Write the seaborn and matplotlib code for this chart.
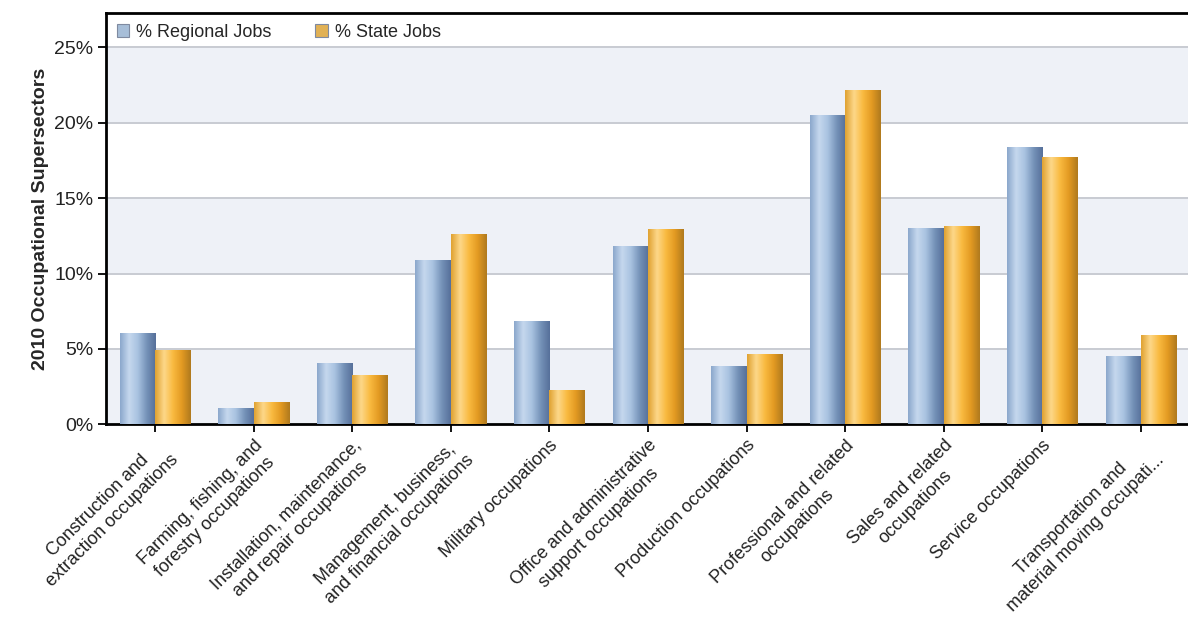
import numpy as np
import pandas as pd
import seaborn as sns
import matplotlib.pyplot as plt
from matplotlib.colors import LinearSegmentedColormap

# occupational supersectors, 2010
categories = [
    "Construction and\nextraction occupations",
    "Farming, fishing, and\nforestry occupations",
    "Installation, maintenance,\nand repair occupations",
    "Management, business,\nand financial occupations",
    "Military occupations",
    "Office and administrative\nsupport occupations",
    "Production occupations",
    "Professional and related\noccupations",
    "Sales and related\noccupations",
    "Service occupations",
    "Transportation and\nmaterial moving occupati...",
]
regional_jobs = [6.05, 1.05, 4.05, 10.9, 6.85, 11.8, 3.9, 20.55, 13.05, 18.4, 4.5]
state_jobs = [4.9, 1.5, 3.3, 12.6, 2.25, 12.95, 4.65, 22.2, 13.15, 17.7, 5.9]
series_names = ["% Regional Jobs", "% State Jobs"]
y_ticks = [0, 5, 10, 15, 20, 25]

df = pd.DataFrame({
    "category": categories * 2,
    "value": regional_jobs + state_jobs,
    "series": [series_names[0]] * len(categories) + [series_names[1]] * len(categories),
})

sns.set_style("white")
plt.rcParams["font.family"] = ["Liberation Sans", "DejaVu Sans"]

fig = plt.figure(figsize=(11.88, 6.39), dpi=100)
ax = fig.add_axes([0.089, 0.336, 0.913, 0.644])

colors = {"% Regional Jobs": "#9fbde0", "% State Jobs": "#f9b93c"}
sns.barplot(data=df, x="category", y="value", hue="series", palette=colors,
            width=0.72, ax=ax, edgecolor="none", linewidth=0, zorder=3)

# alternating bands
for i in range(0, 25, 10):
    ax.axhspan(i, i + 5, color="#eef1f7", zorder=0, lw=0)
for t in y_ticks[1:]:
    ax.axhline(t, color="#c8cbd2", lw=1.4, zorder=1)

# gradient shading on each bar
blue_cmap = LinearSegmentedColormap.from_list("b", ["#8ba8cc", "#c6d8ee", "#a8c2e0", "#7592b8", "#56709a"])
orange_cmap = LinearSegmentedColormap.from_list("o", ["#e0a232", "#fdd88a", "#f9ba40", "#e39a22", "#b07a1e"])
grad = np.linspace(0, 1, 64).reshape(1, -1)
n = len(categories)
for i, patch in enumerate(list(ax.patches)[:2 * n]):
    x0, y0 = patch.get_x(), patch.get_y()
    w, h = patch.get_width(), patch.get_height()
    cmap = blue_cmap if i < n else orange_cmap
    im = ax.imshow(grad, cmap=cmap, aspect="auto", extent=[x0, x0 + w, y0, y0 + h],
                   zorder=4, interpolation="bicubic")
    im.set_clip_path(patch)
ax.set_xlim(-0.5, n - 0.5)
ax.set_ylim(0, 27.3)

ax.set_yticks(y_ticks)
ax.set_yticklabels([f"{t}%" for t in y_ticks], fontsize=14, color="#222222")
ax.set_xticks(range(n))
ax.set_xticklabels(categories, rotation=45, ha="right", rotation_mode="anchor",
                   fontsize=13, color="#222222", multialignment="center", linespacing=1.3)
ax.tick_params(axis="both", direction="out", length=6, width=1.3, color="black",
               bottom=True, left=True)
ax.tick_params(axis="x", pad=3)
ax.tick_params(axis="y", pad=3)
ax.set_xlabel("")
ax.set_ylabel("2010 Occupational Supersectors", fontsize=14, fontweight="bold", labelpad=4)

for side in ["left", "bottom", "top"]:
    ax.spines[side].set_visible(True)
    ax.spines[side].set_color("black")
    ax.spines[side].set_linewidth(2)
ax.spines["right"].set_visible(False)

handles, labels = ax.get_legend_handles_labels()
leg = ax.legend(handles, labels, loc="upper left", ncol=2, frameon=False, fontsize=13,
                handlelength=0.7, handleheight=0.7, columnspacing=2.4, handletextpad=0.4,
                borderaxespad=0.2, bbox_to_anchor=(0.0, 1.0))
for h in leg.legend_handles:
    h.set_edgecolor("#7f8aa0")
    h.set_linewidth(0.8)

fig.savefig("out.png", dpi=100, facecolor="white")
